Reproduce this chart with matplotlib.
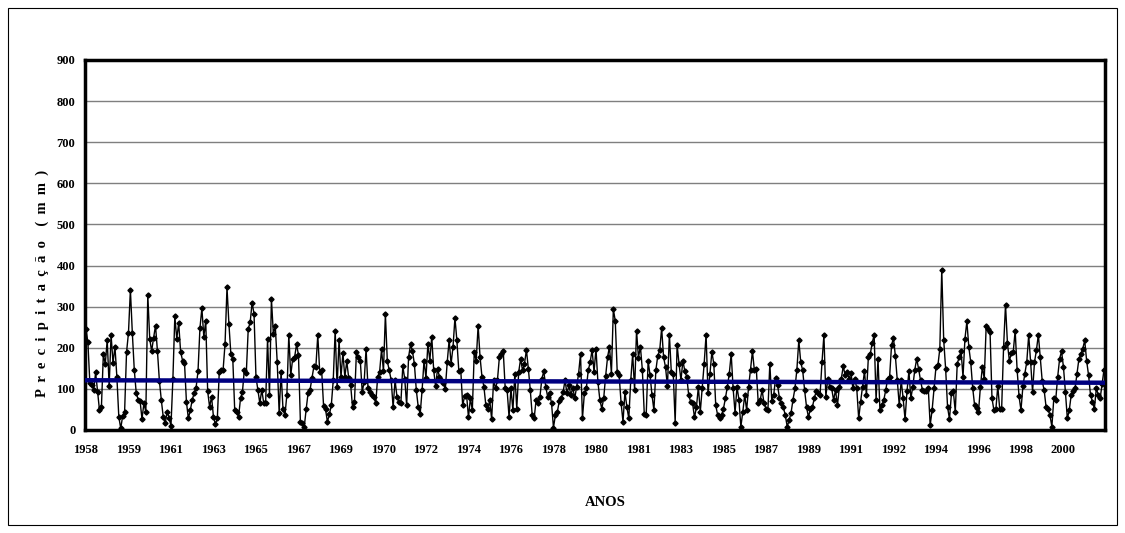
import numpy as np
import matplotlib.pyplot as plt
from matplotlib.patches import Rectangle

# monthly precipitation (mm), Jan 1958 onwards in blocks
p_1958 = [246, 213, 115, 110, 98, 140, 93, 48, 56, 184, 161, 219, 107, 231, 163, 203, 129, 32, 4, 34,
          44, 189, 236, 341, 236, 147, 91, 74, 71, 27, 65, 44, 329, 222, 192, 224, 254, 192, 120, 73,
          32, 16, 45, 30, 10]
p_1961 = [125, 277, 222, 260, 190, 169, 164, 69, 28, 48, 73, 90, 103, 143, 248, 296, 227, 265, 94, 56,
          81, 32, 14, 28, 141, 147, 147, 210, 347, 258, 185, 173, 48, 43, 32, 77, 93, 147, 139, 246,
          262, 310, 282, 129]
p_1965 = [97, 65, 98, 66, 65, 222, 85, 319, 234, 252, 165, 42, 141, 50, 36, 86, 231, 133, 173, 177,
          208, 183, 20, 18, 8, 51, 91, 98, 127, 155, 153, 231, 141, 145, 58, 50, 20, 38, 60, 121,
          242, 105, 219, 129]
p_1969 = [187, 129, 167, 127, 110, 55, 69, 190, 177, 169, 93, 117, 198, 102, 93, 85, 81, 65, 129, 141,
          196, 143, 282, 167, 145, 121, 55, 121, 81, 69, 65, 155, 125, 60, 177, 208, 192, 161, 97, 56,
          39, 97, 169, 127]
p_1972 = [210, 169, 227, 145, 106, 149, 129, 121, 115, 99, 165, 219, 161, 202, 273, 218, 144, 147, 60, 82,
          86, 31, 77, 48, 190, 169, 254, 177, 129, 105, 60, 50, 73, 26, 121, 101, 121, 177, 185, 192,
          103, 98, 32, 101, 48]
p_1976 = [137, 52, 141, 173, 145, 161, 195, 149, 97, 36, 28, 73, 65, 81, 125, 143, 105, 81, 89, 65,
          6, 36, 44, 70, 77, 93, 121, 89, 109, 85, 103, 77, 105, 137, 185, 28, 89, 101, 145, 165,
          195, 141, 198, 117]
p_1980 = [74, 52, 77, 131, 177, 203, 137, 294, 265, 141, 133, 66, 20, 93, 56, 28, 121, 185, 97, 242,
          176, 203, 147, 40, 36, 168, 133, 85, 48, 145, 181, 194, 248, 177, 153, 106, 232, 141, 137, 18,
          207, 161, 121, 169]
p_1983 = [143, 129, 85, 69, 65, 31, 55, 105, 44, 101, 161, 232, 89, 137, 190, 161, 60, 36, 28, 36,
          52, 77, 105, 137, 185, 101, 42, 105, 74, 8, 44, 85, 48, 105, 147, 192, 145, 149, 65, 73,
          97, 65, 52, 48]
p_1987 = [161, 71, 85, 127, 109, 77, 65, 55, 36, 8, 24, 42, 74, 101, 147, 218, 165, 145, 97, 56,
          31, 52, 55, 77, 94, 89, 85, 165, 231, 81, 125, 105, 101, 73, 97, 60, 105, 125, 155, 133,
          141, 125, 139, 101, 125]
p_1991 = [101, 28, 69, 105, 143, 85, 177, 185, 212, 231, 73, 173, 48, 60, 73, 97, 125, 129, 206, 224,
          179, 121, 60, 121, 77, 26, 94, 143, 77, 105, 145, 173, 149, 121, 97, 94, 95, 103, 12, 48,
          101, 153, 157, 198, 390]
p_1995 = [219, 149, 56, 26, 89, 94, 44, 161, 177, 192, 129, 222, 264, 202, 165, 103, 60, 54, 43, 105,
          153, 125, 254, 246, 238, 77, 48, 50, 107, 51, 52, 202, 305, 211, 168, 187, 190, 242, 147, 82,
          48, 106, 137, 165, 231]
p_1998 = [165, 93, 165, 194, 232, 177, 119, 97, 56, 51, 36, 8, 77, 74, 129, 173, 192, 153, 93, 28,
          48, 85, 94, 101, 137, 173, 184, 198, 218, 168, 133, 85, 69, 52, 101, 86, 77, 113, 147]

# trend line end values (mm)
trend_start = 121
trend_end = 115

year_labels = ["1958", "1959", "1961", "1963", "1965", "1967", "1969", "1970", "1972", "1974",
               "1976", "1978", "1980", "1981", "1983", "1985", "1987", "1989", "1991", "1992",
               "1994", "1996", "1998", "2000"]
label_step = 22

precip = np.array(p_1958 + p_1961 + p_1965 + p_1969 + p_1972 + p_1976 +
                  p_1980 + p_1983 + p_1987 + p_1991 + p_1995 + p_1998)
n = len(precip)
x = np.arange(n) + 0.5

plt.rcParams['font.family'] = ['Liberation Serif', 'DejaVu Serif']
plt.rcParams['font.weight'] = 'bold'

fig = plt.figure(figsize=(11.25, 5.33), dpi=100)
fig.patches.append(Rectangle((8 / 1125, 8 / 533), 1109 / 1125, 517 / 533,
                             transform=fig.transFigure, fill=False,
                             edgecolor='black', linewidth=0.8))
ax = fig.add_axes([85 / 1125, 103 / 533, 1020 / 1125, 370 / 533])

for yv in range(100, 900, 100):
    ax.axhline(yv, color='#7f7f7f', linewidth=1.0, zorder=1)

ax.plot(x, precip, color='black', linewidth=1.0, marker='D', markersize=2.6, zorder=3)
ax.plot([0, n], [trend_start, trend_end], color='#000080', linewidth=3.2, zorder=4)

ax.set_xlim(0, n)
ax.set_ylim(0, 900)
ax.set_yticks(range(0, 1000, 100))
ax.set_yticklabels([str(v) for v in range(0, 1000, 100)], fontsize=9, fontweight='bold')
tick_pos = [i * label_step + 0.5 for i in range(len(year_labels))]
ax.set_xticks(tick_pos)
ax.set_xticklabels(year_labels, fontsize=9, fontweight='bold')
ax.tick_params(axis='x', length=0, pad=10)
ax.tick_params(axis='y', length=0, pad=7)

for side in ax.spines.values():
    side.set_linewidth(2.5)
    side.set_color('black')

fig.text(42 / 1125, 1 - 283 / 533, "P  r  e  c  i  p  i  t  a  ç  ã  o    (  m  m  )",
         rotation=90, ha='center', va='center', fontsize=10.5, fontweight='bold')
fig.text(605 / 1125, 1 - 502 / 533, "ANOS", ha='center', va='center',
         fontsize=10.5, fontweight='bold')

plt.savefig("out.png", dpi=100)
